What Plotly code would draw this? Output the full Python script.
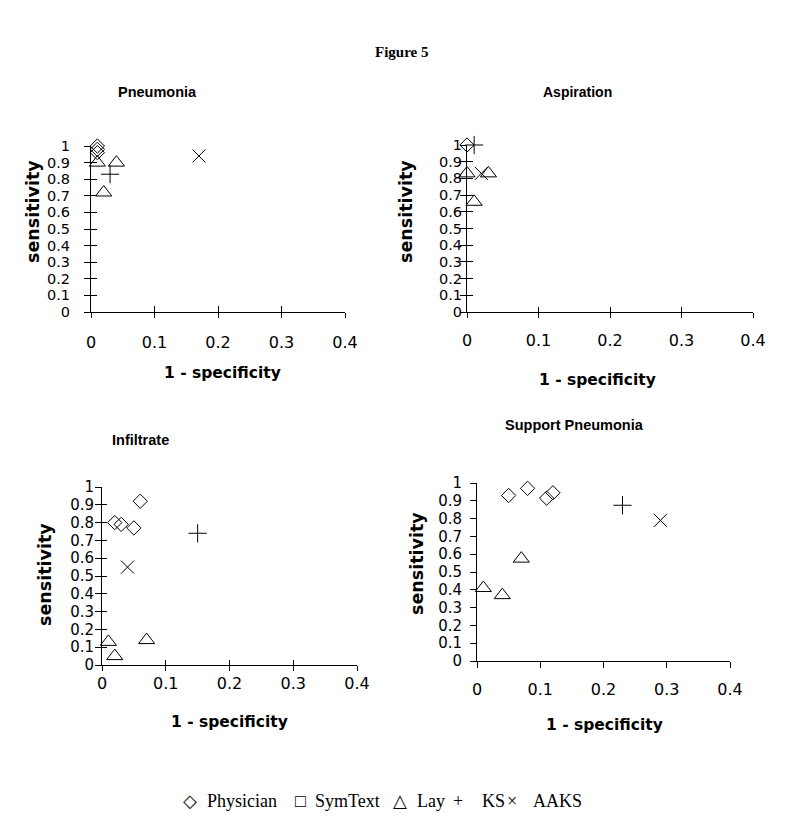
import plotly.graph_objects as go

# ---------------- data ----------------
panel_titles = ["Pneumonia", "Aspiration", "Infiltrate", "Support Pneumonia"]

pneu_phys_x = [0.01, 0.01, 0.01]
pneu_phys_y = [1.00, 0.98, 0.96]
pneu_lay_x = [0.01, 0.04, 0.02]
pneu_lay_y = [0.90, 0.90, 0.72]
pneu_ks_x = [0.03]
pneu_ks_y = [0.83]
pneu_aaks_x = [0.17]
pneu_aaks_y = [0.94]

asp_phys_x = [0.00]
asp_phys_y = [1.00]
asp_lay_x = [0.00, 0.03, 0.01]
asp_lay_y = [0.83, 0.83, 0.66]
asp_ks_x = [0.01]
asp_ks_y = [1.00]
asp_aaks_x = [0.02]
asp_aaks_y = [0.83]

inf_phys_x = [0.02, 0.03, 0.05, 0.06]
inf_phys_y = [0.80, 0.79, 0.77, 0.92]
inf_lay_x = [0.01, 0.02, 0.07]
inf_lay_y = [0.13, 0.05, 0.14]
inf_ks_x = [0.15]
inf_ks_y = [0.74]
inf_aaks_x = [0.04]
inf_aaks_y = [0.55]

sup_phys_x = [0.05, 0.08, 0.11, 0.12]
sup_phys_y = [0.93, 0.97, 0.915, 0.945]
sup_lay_x = [0.01, 0.04, 0.07]
sup_lay_y = [0.41, 0.37, 0.575]
sup_ks_x = [0.23]
sup_ks_y = [0.875]
sup_aaks_x = [0.29]
sup_aaks_y = [0.79]

y_ticks = [0, 0.1, 0.2, 0.3, 0.4, 0.5, 0.6, 0.7, 0.8, 0.9, 1]
y_ticktext = ["0", "0.1", "0.2", "0.3", "0.4", "0.5", "0.6", "0.7", "0.8", "0.9", "1"]
x_ticks = [0, 0.1, 0.2, 0.3, 0.4]
x_ticktext = ["0", "0.1", "0.2", "0.3", "0.4"]

legend_labels = ["\u25c7", "Physician", "\u25a1", "SymText", "\u25b3", "Lay", "+", "KS", "\u00d7", "AAKS"]

series_names = ["Physician", "Lay", "KS", "AAKS"]
series_symbols = ["diamond-open", "triangle-up-open", "cross-thin-open", "x-thin-open"]
series_sizes = [11, 14, 13, 13]

panels = [
    [(pneu_phys_x, pneu_phys_y), (pneu_lay_x, pneu_lay_y), (pneu_ks_x, pneu_ks_y), (pneu_aaks_x, pneu_aaks_y)],
    [(asp_phys_x, asp_phys_y), (asp_lay_x, asp_lay_y), (asp_ks_x, asp_ks_y), (asp_aaks_x, asp_aaks_y)],
    [(inf_phys_x, inf_phys_y), (inf_lay_x, inf_lay_y), (inf_ks_x, inf_ks_y), (inf_aaks_x, inf_aaks_y)],
    [(sup_phys_x, sup_phys_y), (sup_lay_x, sup_lay_y), (sup_ks_x, sup_ks_y), (sup_aaks_x, sup_aaks_y)],
]

# ---------------- layout geometry ----------------
# positions below are page pixels; the page body has an 8px margin
OFF = 8
W, H = 784, 822


def px(v):
    return (v - OFF) / W


def py(v):
    return 1 - (v - OFF) / H


# (left, right, bottom(y=0), top(y=1)) in page pixels
boxes = [
    (91, 345, 312, 146),
    (467, 753, 312, 145),
    (102, 357, 665, 487),
    (477, 730, 661, 483),
]
# tick styling per panel: (y_out, y_in, y_standoff, y_font, x_out, x_in, x_standoff)
tick_style = [
    (6, 6, 11, 14.5, 5, 6, 11),
    (6, 6, -5, 14.5, 5, 5, 9),
    (6, 5, -2, 15, 5, 5, -1),
    (6, 0, 5, 15, 6, 0, 8),
]
title_pos = [(157, 92, 14.5), (577, 92, 14), (140, 440, 14.5), (574, 425, 14.5)]
ylab_pos = [(33, 212), (406, 212), (45, 575), (417, 563)]
xlab_pos = [(222, 373), (597, 380), (229, 722), (604, 725)]
legend_x = [181, 205, 293, 313, 391, 415, 451, 480, 505, 531]

SANS = "DejaVu Sans, Verdana, sans-serif"
ARIAL = "Liberation Sans, Arial, sans-serif"
SERIF = "Liberation Serif, Times New Roman, DejaVu Serif, serif"

fig = go.Figure()
layout = dict(
    template="none",
    width=W, height=H,
    margin=dict(l=0, r=0, t=0, b=0, pad=0),
    paper_bgcolor="white", plot_bgcolor="white",
    showlegend=False,
    font=dict(family=SANS, color="black"),
)
annotations = []

for i, (series, box) in enumerate(zip(panels, boxes)):
    k = i + 1
    n = "" if k == 1 else str(k)
    xa, ya = "x" + n, "y" + n
    xo, yo = "x" + str(k + 4), "y" + str(k + 4)
    for (sx, sy), name, sym, sz in zip(series, series_names, series_symbols, series_sizes):
        fig.add_trace(go.Scatter(
            x=sx, y=sy, mode="markers", name=name, xaxis=xa, yaxis=ya,
            cliponaxis=False, hoverinfo="x+y+name",
            marker=dict(symbol=sym, size=sz, color="black", line=dict(width=1, color="black")),
        ))
    # invisible trace holding the overlay axes that draw the inward half of the ticks
    fig.add_trace(go.Scatter(x=[None], y=[None], xaxis=xo, yaxis=yo, mode="markers",
                             showlegend=False, hoverinfo="skip"))
    l, r, b, t = box
    y_out, y_in, y_so, y_fs, x_out, x_in, x_so = tick_style[i]
    layout["xaxis" + n] = dict(
        domain=[px(l), px(r)], range=[0, 0.4], anchor=ya, automargin=False,
        tickmode="array", tickvals=x_ticks, ticktext=x_ticktext,
        showgrid=False, zeroline=False, showline=True, linecolor="black", linewidth=1,
        ticks="outside", ticklen=x_out, tickwidth=1, tickcolor="black", ticklabelstandoff=x_so,
        tickfont=dict(size=16, color="black", family=SANS),
    )
    layout["yaxis" + n] = dict(
        domain=[py(b), py(t)], range=[0, 1], anchor=xa, automargin=False,
        tickmode="array", tickvals=y_ticks, ticktext=y_ticktext,
        showgrid=False, zeroline=False, showline=True, linecolor="black", linewidth=1,
        ticks="outside", ticklen=y_out, tickwidth=1, tickcolor="black", ticklabelstandoff=y_so,
        tickfont=dict(size=y_fs, color="black", family=SANS),
    )
    layout["xaxis" + str(k + 4)] = dict(
        overlaying=xa, anchor=yo, range=[0, 0.4], automargin=False,
        tickmode="array", tickvals=x_ticks, showticklabels=False,
        showgrid=False, zeroline=False, showline=False,
        ticks="inside" if x_in > 0 else "", ticklen=max(x_in, 1), tickwidth=1, tickcolor="black",
    )
    layout["yaxis" + str(k + 4)] = dict(
        overlaying=ya, anchor=xo, range=[0, 1], automargin=False,
        tickmode="array", tickvals=y_ticks, showticklabels=False,
        showgrid=False, zeroline=False, showline=False,
        ticks="inside" if y_in > 0 else "", ticklen=max(y_in, 1), tickwidth=1, tickcolor="black",
    )
    tx, ty, ts = title_pos[i]
    annotations.append(dict(x=px(tx), y=py(ty), xref="paper", yref="paper", showarrow=False,
                            text="<b>" + panel_titles[i] + "</b>",
                            font=dict(size=ts, color="black", family=ARIAL),
                            xanchor="center", yanchor="middle"))
    lx, ly = ylab_pos[i]
    annotations.append(dict(x=px(lx), y=py(ly), xref="paper", yref="paper", showarrow=False,
                            text="<b>sensitivity</b>", textangle=-90,
                            font=dict(size=17.5, color="black", family=SANS),
                            xanchor="center", yanchor="middle"))
    xx, xy = xlab_pos[i]
    annotations.append(dict(x=px(xx), y=py(xy), xref="paper", yref="paper", showarrow=False,
                            text="<b>1 - specificity</b>",
                            font=dict(size=15.5, color="black", family=SANS),
                            xanchor="center", yanchor="middle"))

annotations.append(dict(x=px(401), y=py(52), xref="paper", yref="paper", showarrow=False,
                        text="<b>Figure 5</b>",
                        font=dict(size=15, color="black", family=SERIF),
                        xanchor="center", yanchor="middle"))
for lbl, lxp in zip(legend_labels, legend_x):
    annotations.append(dict(x=px(lxp), y=py(801), xref="paper", yref="paper", showarrow=False,
                            text=lbl, font=dict(size=18, color="black", family=SERIF),
                            xanchor="left", yanchor="middle"))

layout["annotations"] = annotations
fig.update_layout(**layout)
fig.write_html("out.html")
